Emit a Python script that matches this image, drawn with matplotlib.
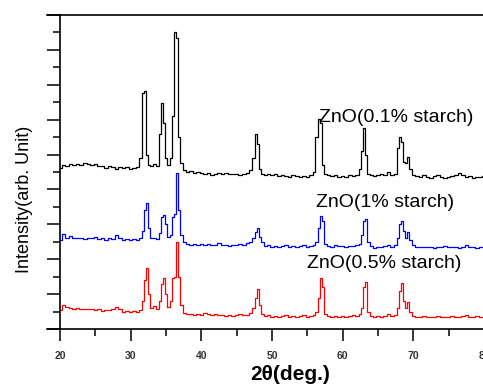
import matplotlib
matplotlib.use("Agg")
import matplotlib.pyplot as plt
from matplotlib.lines import Line2D
from matplotlib.ticker import MultipleLocator

plt.rcParams['font.family'] = ['Liberation Sans', 'DejaVu Sans']

# 2theta grid (deg)
two_theta = [
    20.0, 20.5, 21.0, 21.5, 22.0, 22.5, 23.0, 23.5, 24.0, 24.5, 25.0, 25.5,
    26.0, 26.5, 27.0, 27.5, 28.0, 28.5, 29.0, 29.5, 30.0, 30.5, 31.0,
    31.4, 31.7, 32.0, 32.3, 32.6, 33.0, 33.4, 33.8, 34.1, 34.4, 34.7, 35.0,
    35.4, 35.8, 36.0, 36.3, 36.6, 36.9, 37.2, 37.6, 38.0,
    38.5, 39.0, 39.5, 40.0, 40.5, 41.0, 41.5, 42.0, 42.5, 43.0, 43.5, 44.0,
    44.5, 45.0, 45.5, 46.0, 46.5, 47.0,
    47.4, 47.7, 48.0, 48.3, 48.7,
    49.0, 49.5, 50.0, 50.5, 51.0, 51.5, 52.0, 52.5, 53.0, 53.5, 54.0, 54.5,
    55.0, 55.5, 56.0,
    56.3, 56.6, 56.9, 57.2, 57.5,
    58.0, 58.5, 59.0, 59.5, 60.0, 60.5, 61.0, 61.5, 62.0, 62.5,
    62.7, 63.0, 63.3, 63.6,
    64.0, 64.5, 65.0, 65.5, 66.0, 66.5, 67.0, 67.5,
    67.8, 68.1, 68.4, 68.7, 69.0, 69.3, 69.6, 69.9,
    70.5, 71.0, 71.5, 72.0, 72.5, 73.0, 73.5, 74.0, 74.5, 75.0, 75.5, 76.0,
    76.5, 77.0, 77.5, 78.0, 78.5, 79.0, 79.5, 80.0,
]

# ZnO (0.1% starch) - black, top
i_01 = [
    4.62, 4.70, 4.68, 4.72, 4.69, 4.74, 4.71, 4.76, 4.72, 4.70, 4.73, 4.68,
    4.66, 4.62, 4.66, 4.64, 4.60, 4.63, 4.61, 4.64, 4.60, 4.62, 4.64,
    4.90, 6.75, 6.82, 5.00, 4.70, 4.66, 4.72, 4.68, 5.60, 6.48, 5.90, 4.90,
    4.70, 4.90, 6.10, 8.50, 8.35, 5.50, 4.75, 4.55, 4.50,
    4.52, 4.48, 4.50, 4.46, 4.44, 4.47, 4.42, 4.45, 4.48, 4.44, 4.46, 4.45,
    4.43, 4.44, 4.42, 4.44, 4.46, 4.55,
    4.90, 5.58, 5.30, 4.60, 4.45,
    4.42, 4.44, 4.40, 4.43, 4.38, 4.41, 4.39, 4.37, 4.40, 4.38, 4.36, 4.39,
    4.37, 4.40, 4.50,
    5.50, 6.02, 5.90, 4.70, 4.45,
    4.40, 4.38, 4.41, 4.36, 4.39, 4.37, 4.40, 4.38, 4.42, 4.60,
    5.10, 5.76, 5.00, 4.45,
    4.42, 4.38, 4.40, 4.44, 4.40, 4.50, 4.42, 4.45,
    5.20, 5.50, 5.35, 4.80, 4.75, 4.93, 4.60, 4.42,
    4.38, 4.36, 4.40, 4.37, 4.34, 4.38, 4.40, 4.36, 4.33, 4.35, 4.38, 4.42,
    4.46, 4.40, 4.36, 4.38, 4.34, 4.37, 4.35, 4.38,
]

# ZnO (1% starch) - blue, middle
i_1 = [
    2.55, 2.72, 2.62, 2.66, 2.60, 2.62, 2.60, 2.59, 2.62, 2.60, 2.63, 2.58,
    2.60, 2.55, 2.62, 2.58, 2.68, 2.60, 2.56, 2.58, 2.55, 2.58, 2.56,
    2.60, 2.80, 3.40, 3.61, 2.90, 2.60, 2.62, 2.58, 2.75, 3.20, 3.27, 3.00,
    2.65, 2.70, 3.20, 3.30, 4.47, 3.40, 2.70, 2.48, 2.45,
    2.42, 2.45, 2.40, 2.43, 2.40, 2.45, 2.42, 2.40, 2.46, 2.42, 2.40, 2.38,
    2.42, 2.40, 2.44, 2.42, 2.46, 2.50,
    2.60, 2.78, 2.90, 2.65, 2.50,
    2.38, 2.40, 2.36, 2.39, 2.35, 2.38, 2.42, 2.36, 2.38, 2.35, 2.37, 2.40,
    2.36, 2.38, 2.40,
    2.50, 2.90, 3.25, 3.10, 2.45,
    2.38, 2.36, 2.40, 2.37, 2.38, 2.36, 2.39, 2.37, 2.40, 2.45,
    2.70, 3.10, 3.15, 2.50,
    2.38, 2.33, 2.36, 2.34, 2.38, 2.42, 2.36, 2.40,
    2.60, 3.00, 3.10, 2.80, 2.60, 2.79, 2.55, 2.40,
    2.36, 2.35, 2.34, 2.36, 2.35, 2.33, 2.35, 2.34, 2.38, 2.35, 2.34, 2.36,
    2.33, 2.35, 2.40, 2.34, 2.36, 2.33, 2.35, 2.34,
]

# ZnO (0.5% starch) - red, bottom
i_05 = [
    0.55, 0.70, 0.62, 0.60, 0.58, 0.60, 0.57, 0.58, 0.56, 0.57, 0.55, 0.56,
    0.52, 0.54, 0.55, 0.58, 0.64, 0.56, 0.50, 0.53, 0.50, 0.52, 0.50,
    0.55, 0.80, 1.40, 1.75, 1.00, 0.60, 0.65, 0.58, 0.80, 1.30, 1.47, 1.00,
    0.62, 0.80, 1.45, 1.50, 2.50, 1.50, 0.70, 0.45, 0.42,
    0.42, 0.40, 0.43, 0.40, 0.45, 0.42, 0.40, 0.44, 0.41, 0.40, 0.38, 0.40,
    0.37, 0.40, 0.42, 0.39, 0.41, 0.45,
    0.60, 0.90, 1.14, 0.70, 0.42,
    0.38, 0.40, 0.35, 0.37, 0.34, 0.36, 0.40, 0.35, 0.37, 0.34, 0.36, 0.40,
    0.35, 0.37, 0.40,
    0.50, 0.90, 1.47, 1.20, 0.42,
    0.36, 0.34, 0.37, 0.35, 0.36, 0.34, 0.37, 0.40, 0.36, 0.42,
    0.60, 1.20, 1.36, 0.50,
    0.36, 0.34, 0.36, 0.33, 0.36, 0.42, 0.38, 0.40,
    0.60, 1.10, 1.31, 0.80, 0.60, 0.78, 0.50, 0.38,
    0.35, 0.34, 0.36, 0.33, 0.35, 0.34, 0.36, 0.33, 0.35, 0.34, 0.38, 0.35,
    0.33, 0.36, 0.40, 0.35, 0.34, 0.36, 0.34, 0.35,
]

x_ticks = [20, 30, 40, 50, 60, 70, 80]
labels = ["ZnO(0.1% starch)", "ZnO(1% starch)", "ZnO(0.5% starch)"]
label_pos = [(56.6, 6.07), (56.2, 3.63), (54.9, 1.89)]
colors = ["black", "blue", "red"]

fig = plt.figure(figsize=(4.83, 3.85), dpi=100)
ax = fig.add_axes([60 / 483, 56 / 385, 424 / 483, 314 / 385])

for y, c in zip([i_01, i_1, i_05], colors):
    ax.plot(two_theta, y, color=c, lw=0.9, drawstyle='steps-mid')

for txt, (tx, ty) in zip(labels, label_pos):
    ax.text(tx, ty, txt, fontsize=14, va='center', ha='left', color='black')

ax.set_xlim(20, 80)
ax.set_ylim(0, 9)
ax.set_xticks(x_ticks)
ax.xaxis.set_minor_locator(MultipleLocator(5))
ax.yaxis.set_major_locator(MultipleLocator(1))
ax.yaxis.set_minor_locator(MultipleLocator(0.5))
ax.set_yticklabels([])
ax.tick_params(axis='y', which='major', direction='out', length=9.5, width=1.1)
ax.tick_params(axis='y', which='minor', direction='out', length=5, width=1.1)
ax.tick_params(axis='x', which='major', direction='out', length=8.5, width=1.1,
               labelsize=7.5, pad=7)
ax.tick_params(axis='x', which='minor', direction='out', length=5, width=1.1)
for lbl in ax.get_xticklabels():
    lbl.set_fontweight('bold')
    lbl.set_color('#333333')

for s in ax.spines.values():
    s.set_linewidth(1.2)

# top and bottom frame lines stick out past the left axis
for yy in (0, 1):
    ax.add_line(Line2D([-0.031, 0], [yy, yy], transform=ax.transAxes,
                       color='black', lw=1.2, clip_on=False))

fig.text(25 / 483, 1 - 199 / 385, "Intensity(arb. Unit)", fontsize=13,
         rotation=90, ha='center', va='center')
fig.text(290 / 483, 1 - 375 / 385, "2θ(deg.)", fontsize=15,
         fontweight='bold', ha='center', va='center')

fig.savefig("out.png", dpi=100)
